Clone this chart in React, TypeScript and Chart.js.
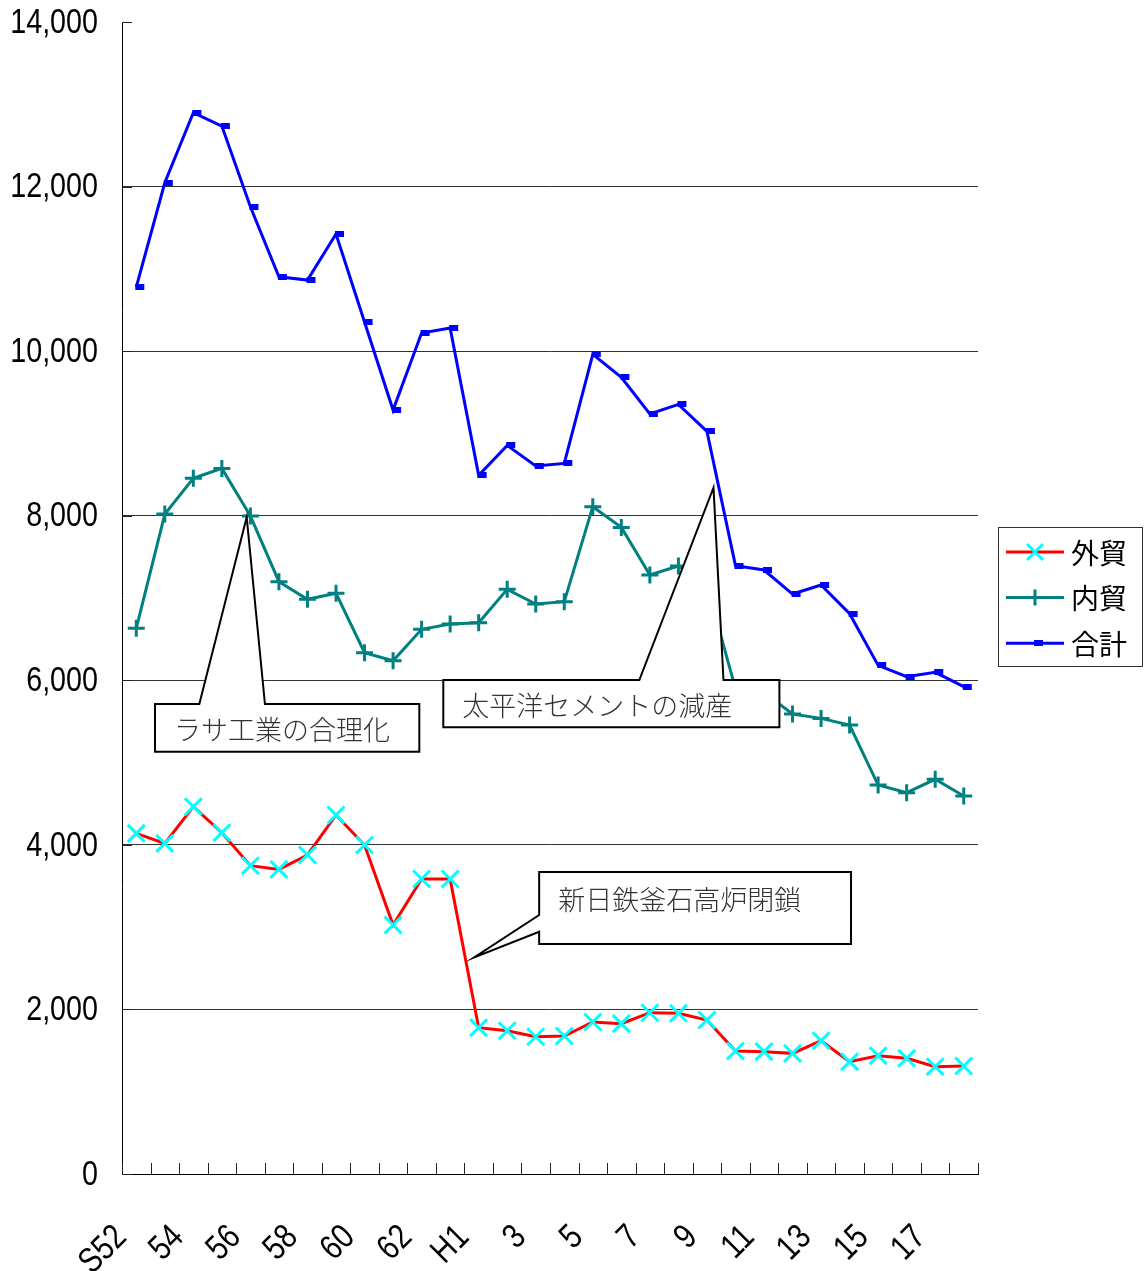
import React, { useEffect, useRef } from 'react';
import { Chart, registerables } from 'chart.js';

Chart.register(...registerables);

// ---- data ----
const categories = [
  'S52', '53', '54', '55', '56', '57', '58', '59', '60', '61', '62', '63',
  'H1', '2', '3', '4', '5', '6', '7', '8', '9', '10', '11', '12', '13', '14', '15', '16', '17', '18',
];
const seriesNames = ['外貿', '内貿', '合計'];
const gaiboku = [
  4140, 4018, 4464, 4148, 3747, 3702, 3877, 4363, 3998, 3026, 3585, 3585,
  1778, 1741, 1668, 1677, 1847, 1827, 1960, 1953, 1871, 1495, 1487, 1466, 1620, 1365, 1438, 1406, 1304, 1312,
];
const naiboku = [
  6631, 8020, 8454, 8575, 7996, 7198, 6984, 7057, 6335, 6238, 6619, 6684,
  6700, 7105, 6927, 6955, 8110, 7858, 7279, 7389, 7154, 5898, 5853, 5590, 5537, 5456, 4727, 4634, 4797, 4594,
];
const goukei = [
  10779, 12046, 12898, 12735, 11755, 10904, 10864, 11423, 10354, 9284, 10220, 10281,
  8490, 8855, 8604, 8636, 9961, 9681, 9236, 9353, 9025, 7393, 7340, 7048, 7158, 6809, 6181, 6044, 6096, 5922,
];
const yMin = 0;
const yMax = 14000;
const yStep = 2000;

const calloutTexts = ['ラサ工業の合理化', '太平洋セメントの減産', '新日鉄釜石高炉閉鎖'];

const W = 1145;
const H = 1271;

function makeDash(color: string) {
  const c = document.createElement('canvas');
  c.width = 18;
  c.height = 6;
  const g = c.getContext('2d')!;
  g.fillStyle = color;
  g.fillRect(8, 0, 9, 6);
  return c;
}

const labelFont = '35px "Liberation Sans", Arial, sans-serif';
const jpFont = '"Noto Sans CJK JP", sans-serif';
const squeeze = 0.82;

export default function App() {
  const ref = useRef<HTMLCanvasElement>(null);

  useEffect(() => {
    const canvas = ref.current!;
    const dash = makeDash('#0000FF');

    const callouts = [
      { text: calloutTexts[0], box: [0.657, 5712, 9.92, 5132], side: 'top', base: [2.21, 4.51], tip: [3.87, 7980] },
      { text: calloutTexts[1], box: [10.76, 6003, 22.54, 5428], side: 'top', base: [17.63, 20.58], tip: [20.23, 8340] },
      { text: calloutTexts[2], box: [14.12, 3670, 25.05, 2795], side: 'left', base: [3147, 2944], tip: [11.84, 2633] },
    ];

    const decor = {
      id: 'decor',
      afterDraw(chart: any) {
        const { ctx, scales, chartArea } = chart;
        const xs = scales.x;
        const ys = scales.y;
        ctx.save();
        // inside ticks on x axis
        ctx.strokeStyle = '#222';
        ctx.lineWidth = 1;
        ctx.beginPath();
        for (let k = 0; k <= categories.length; k++) {
          const x = Math.round(xs.getPixelForValue(k - 0.5)) + 0.5;
          ctx.moveTo(x, chartArea.bottom);
          ctx.lineTo(x, chartArea.bottom - 11);
        }
        // inside ticks on y axis
        for (let v = yMin; v <= yMax; v += yStep) {
          const y = Math.round(ys.getPixelForValue(v)) + 0.5;
          ctx.moveTo(chartArea.left, y);
          ctx.lineTo(chartArea.left + 10, y);
        }
        ctx.stroke();

        // y tick labels
        ctx.fillStyle = '#000';
        ctx.font = labelFont;
        ctx.textAlign = 'right';
        ctx.textBaseline = 'middle';
        for (const t of ys.ticks) {
          const y = ys.getPixelForValue(t.value);
          ctx.save();
          ctx.translate(chartArea.left - 24, y + 1);
          ctx.scale(squeeze, 1);
          ctx.fillText(Number(t.value).toLocaleString('en-US'), 0, 0);
          ctx.restore();
        }
        // x tick labels (every other category, rotated 45°)
        categories.forEach((lab, i) => {
          if (i % 2 !== 0) return;
          const x = xs.getPixelForValue(i);
          ctx.save();
          ctx.translate(x - 15, chartArea.bottom + 58);
          ctx.rotate(-Math.PI / 4);
          ctx.scale(squeeze, 1);
          ctx.fillText(lab, 0, 0);
          ctx.restore();
        });

        // callouts
        for (const c of callouts) {
          const l = xs.getPixelForValue(c.box[0]);
          const t = ys.getPixelForValue(c.box[1]);
          const r = xs.getPixelForValue(c.box[2]);
          const b = ys.getPixelForValue(c.box[3]);
          const tx = xs.getPixelForValue(c.tip[0]);
          const ty = ys.getPixelForValue(c.tip[1]);
          ctx.beginPath();
          if (c.side === 'top') {
            const b1 = xs.getPixelForValue(c.base[0]);
            const b2 = xs.getPixelForValue(c.base[1]);
            ctx.moveTo(l, t);
            ctx.lineTo(b1, t);
            ctx.lineTo(tx, ty);
            ctx.lineTo(b2, t);
            ctx.lineTo(r, t);
            ctx.lineTo(r, b);
            ctx.lineTo(l, b);
          } else {
            const b1 = ys.getPixelForValue(c.base[0]);
            const b2 = ys.getPixelForValue(c.base[1]);
            ctx.moveTo(l, t);
            ctx.lineTo(r, t);
            ctx.lineTo(r, b);
            ctx.lineTo(l, b);
            ctx.lineTo(l, b2);
            ctx.lineTo(tx, ty);
            ctx.lineTo(l, b1);
          }
          ctx.closePath();
          ctx.fillStyle = '#fff';
          ctx.fill();
          ctx.strokeStyle = '#000';
          ctx.lineWidth = 2;
          ctx.lineJoin = 'miter';
          ctx.stroke();
          ctx.fillStyle = '#333';
          ctx.font = '300 27px ' + jpFont;
          ctx.textBaseline = 'middle';
          ctx.textAlign = 'left';
          ctx.fillText(c.text, l + 19, c.side === 'left' ? t + 28 : (t + b) / 2 + 2);
        }

        // legend
        const lx = 998, ly = 527, lw = 144, lh = 139;
        ctx.fillStyle = '#fff';
        ctx.fillRect(lx, ly, lw, lh);
        ctx.strokeStyle = '#333';
        ctx.lineWidth = 1;
        ctx.strokeRect(lx + 0.5, ly + 0.5, lw, lh);
        chart.data.datasets.forEach((ds: any, i: number) => {
          const y = ly + 25 + i * 45.6;
          ctx.strokeStyle = ds.borderColor;
          ctx.lineWidth = 3;
          ctx.beginPath();
          ctx.moveTo(1006, y);
          ctx.lineTo(1064, y);
          ctx.stroke();
          const mx = 1035;
          if (ds.pointStyle === 'crossRot') {
            ctx.strokeStyle = ds.pointBorderColor;
            ctx.lineWidth = 3;
            ctx.beginPath();
            ctx.moveTo(mx - 8, y - 8); ctx.lineTo(mx + 8, y + 8);
            ctx.moveTo(mx + 8, y - 8); ctx.lineTo(mx - 8, y + 8);
            ctx.stroke();
          } else if (ds.pointStyle === 'cross') {
            ctx.strokeStyle = ds.pointBorderColor;
            ctx.lineWidth = 3;
            ctx.beginPath();
            ctx.moveTo(mx - 8, y); ctx.lineTo(mx + 8, y);
            ctx.moveTo(mx, y - 8); ctx.lineTo(mx, y + 8);
            ctx.stroke();
          } else {
            ctx.drawImage(dash, mx - 9, y - 3);
          }
          ctx.fillStyle = '#000';
          ctx.font = '28px ' + jpFont;
          ctx.textBaseline = 'middle';
          ctx.textAlign = 'left';
          ctx.fillText(ds.label, 1071, y + 1);
        });
        ctx.restore();
      },
    };

    const chart = new Chart(canvas, {
      type: 'line',
      data: {
        labels: categories,
        datasets: [
          {
            label: seriesNames[0],
            data: gaiboku,
            borderColor: '#FF0000',
            borderWidth: 3,
            pointStyle: 'crossRot',
            pointRadius: 12,
            pointBorderColor: '#00FFFF',
            pointBackgroundColor: '#00FFFF',
            pointBorderWidth: 3,
            tension: 0,
          },
          {
            label: seriesNames[1],
            data: naiboku,
            borderColor: '#008080',
            borderWidth: 3,
            pointStyle: 'cross',
            pointRadius: 8.5,
            pointBorderColor: '#008080',
            pointBackgroundColor: '#008080',
            pointBorderWidth: 3,
            tension: 0,
          },
          {
            label: seriesNames[2],
            data: goukei,
            borderColor: '#0000FF',
            borderWidth: 3,
            pointStyle: dash as any,
            pointRadius: 5,
            pointBorderColor: '#0000FF',
            pointBackgroundColor: '#0000FF',
            tension: 0,
          },
        ],
      },
      options: {
        responsive: false,
        animation: false,
        events: [],
        layout: { padding: { top: 22, right: 167, left: 0, bottom: 0 } },
        plugins: {
          legend: { display: false },
          tooltip: { enabled: false },
        },
        scales: {
          x: {
            offset: true,
            grid: { display: false, drawTicks: false },
            border: { display: true, color: '#000', width: 1 },
            ticks: { display: false, autoSkip: false },
            afterFit: (s: any) => {
              s.height = H - 1174;
            },
          },
          y: {
            min: yMin,
            max: yMax,
            grid: {
              drawTicks: false,
              lineWidth: 1,
              color: (c: any) => (c.tick && (c.tick.value === yMin || c.tick.value === yMax) ? 'rgba(0,0,0,0)' : '#333'),
            },
            border: { display: true, color: '#000', width: 1 },
            ticks: { display: false, stepSize: yStep },
            afterFit: (s: any) => {
              s.width = 122;
            },
          },
        },
      },
      plugins: [decor],
    });
    return () => chart.destroy();
  }, []);

  return (
    <div style={{ position: 'absolute', left: 0, top: 0, width: W, height: H, background: '#fff' }}>
      <canvas ref={ref} width={W} height={H} style={{ display: 'block', width: W, height: H }} />
    </div>
  );
}
